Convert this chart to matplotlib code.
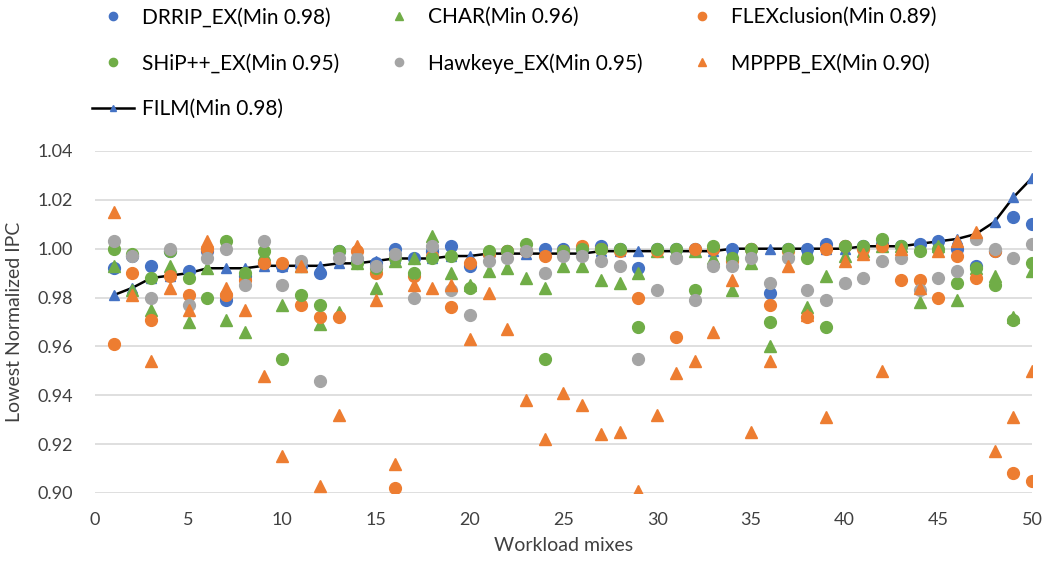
import numpy as np
import matplotlib.pyplot as plt

plt.rcParams['font.family'] = ['Lato', 'DejaVu Sans']

mix = np.arange(1, 51)

film = [0.981, 0.984, 0.988, 0.989, 0.990, 0.992, 0.992, 0.992, 0.993, 0.993,
        0.993, 0.993, 0.994, 0.994, 0.995, 0.996, 0.996, 0.996, 0.997, 0.997,
        0.998, 0.998, 0.998, 0.998, 0.998, 0.998, 0.999, 0.999, 0.999, 0.999,
        0.999, 0.999, 0.999, 1.000, 1.000, 1.000, 1.000, 1.000, 1.000, 1.000,
        1.001, 1.001, 1.001, 1.002, 1.003, 1.004, 1.006, 1.011, 1.021, 1.029]

drrip = [0.992, 0.997, 0.993, 0.999, 0.991, 0.999, 0.979, 0.989, 0.994, 0.993,
         0.993, 0.990, 0.999, 0.995, 0.994, 1.000, 0.996, 0.999, 1.001, 0.993,
         0.998, 0.999, 0.999, 1.000, 1.000, 1.000, 1.001, 1.000, 0.992, 1.000,
         1.000, 1.000, 1.000, 1.000, 1.000, 0.982, 1.000, 1.000, 1.002, 1.001,
         1.001, 1.002, 1.001, 1.002, 1.003, 1.000, 0.993, 0.999, 1.013, 1.010]

char = [0.993, 0.983, 0.975, 0.993, 0.970, 0.992, 0.971, 0.966, 0.998, 0.977,
        0.993, 0.969, 0.974, 0.994, 0.984, 0.995, 0.996, 1.005, 0.990, 0.985,
        0.991, 0.992, 0.988, 0.984, 0.993, 0.993, 0.987, 0.986, 0.990, 0.999,
        0.999, 0.999, 0.996, 0.983, 0.994, 0.960, 0.999, 0.976, 0.989, 0.997,
        0.999, 1.001, 1.001, 0.978, 1.001, 0.979, 0.992, 0.989, 0.972, 0.991]

flex = [0.961, 0.990, 0.971, 0.989, 0.981, 1.000, 0.981, 0.987, 0.994, 0.994,
        0.977, 0.972, 0.972, 0.999, 0.990, 0.902, 0.989, 0.997, 0.976, 0.994,
        0.998, 0.999, 0.999, 0.997, 0.999, 1.001, 1.000, 0.999, 0.980, 0.999,
        0.964, 1.000, 1.000, 0.995, 1.000, 0.977, 0.999, 0.972, 1.000, 1.001,
        1.000, 1.001, 0.987, 0.987, 0.980, 0.997, 0.988, 0.999, 0.908, 0.905]

ship = [1.000, 0.998, 0.988, 0.999, 0.988, 0.980, 1.003, 0.990, 0.999, 0.955,
        0.981, 0.977, 0.999, 0.994, 0.992, 0.996, 0.990, 0.996, 0.997, 0.984,
        0.999, 0.999, 1.002, 0.955, 0.999, 1.000, 1.000, 1.000, 0.968, 1.000,
        1.000, 0.983, 1.001, 0.996, 1.000, 0.970, 1.000, 0.996, 0.968, 1.001,
        1.001, 1.004, 1.001, 0.999, 1.000, 0.986, 0.992, 0.985, 0.971, 0.994]

hawkeye = [1.003, 0.997, 0.980, 1.000, 0.977, 0.996, 1.000, 0.985, 1.003, 0.985,
           0.995, 0.946, 0.996, 0.996, 0.993, 0.998, 0.980, 1.001, 0.983, 0.973,
           0.995, 0.996, 0.999, 0.990, 0.997, 0.997, 0.995, 0.993, 0.955, 0.983,
           0.996, 0.979, 0.993, 0.993, 0.996, 0.986, 0.996, 0.983, 0.979, 0.986,
           0.988, 0.995, 0.996, 0.983, 0.988, 0.991, 1.004, 1.000, 0.996, 1.002]

mpppb = [1.015, 0.981, 0.954, 0.984, 0.975, 1.003, 0.984, 0.975, 0.948, 0.915,
         0.993, 0.903, 0.932, 1.001, 0.979, 0.912, 0.985, 0.984, 0.985, 0.963,
         0.982, 0.967, 0.938, 0.922, 0.941, 0.936, 0.924, 0.925, 0.901, 0.932,
         0.949, 0.954, 0.966, 0.987, 0.925, 0.954, 0.993, 0.973, 0.931, 0.995,
         0.998, 0.950, 1.000, 0.984, 0.999, 1.003, 1.007, 0.917, 0.931, 0.950]

BLUE = '#4472C4'
ORANGE = '#ED7D31'
GRAY = '#A5A5A5'
GREEN = '#70AD47'

fig = plt.figure(figsize=(10.47, 5.70), dpi=100)
ax = fig.add_axes([0.0907, 0.1351, 0.895, 0.600])

ms = 8.5
h_film, = ax.plot(mix, film, '-^', color='black', lw=1.8, mfc=BLUE, mec=BLUE,
                  ms=7, label='FILM(Min 0.98)', zorder=2)
h_drrip, = ax.plot(mix, drrip, 'o', color=BLUE, ms=ms, label='DRRIP_EX(Min 0.98)', zorder=3)
h_char, = ax.plot(mix, char, '^', color=GREEN, ms=ms, label='CHAR(Min 0.96)', zorder=3)
h_flex, = ax.plot(mix, flex, 'o', color=ORANGE, ms=ms, label='FLEXclusion(Min 0.89)', zorder=3)
h_ship, = ax.plot(mix, ship, 'o', color=GREEN, ms=ms, label='SHiP++_EX(Min 0.95)', zorder=3)
h_hawk, = ax.plot(mix, hawkeye, 'o', color=GRAY, ms=ms, label='Hawkeye_EX(Min 0.95)', zorder=3)
h_mpppb, = ax.plot(mix, mpppb, '^', color=ORANGE, ms=ms, label='MPPPB_EX(Min 0.90)', zorder=3)

ax.set_xlim(0, 50)
ax.set_ylim(0.90, 1.04)
ax.set_xticks(np.arange(0, 51, 5))
ax.set_yticks(np.arange(0.90, 1.041, 0.02))
ax.yaxis.set_major_formatter(plt.FormatStrFormatter('%.2f'))
ax.grid(axis='y', color='#D9D9D9', lw=1.2)
ax.set_axisbelow(True)
for s in ['top', 'right', 'left', 'bottom']:
    ax.spines[s].set_visible(False)
ax.tick_params(axis='x', length=0, labelsize=13, colors='#404040', pad=14)
ax.tick_params(axis='y', length=0, labelsize=13, colors='#404040', pad=16)
ax.set_xlabel('Workload mixes', fontsize=14, color='#404040', labelpad=6)
ax.set_ylabel('Lowest Normalized IPC', fontsize=14, color='#404040', labelpad=10)

handles = [h_drrip, h_ship, h_film, h_char, h_hawk, h_flex, h_mpppb]
fig.legend(handles=handles, labels=[h.get_label() for h in handles],
           ncol=3, loc='upper left', bbox_to_anchor=(0.07, 1.02),
           frameon=False, fontsize=15, markerscale=0.7, handlelength=2.0,
           handletextpad=0.4, columnspacing=1.85, labelspacing=1.24)

fig.savefig('out.png', dpi=100)
